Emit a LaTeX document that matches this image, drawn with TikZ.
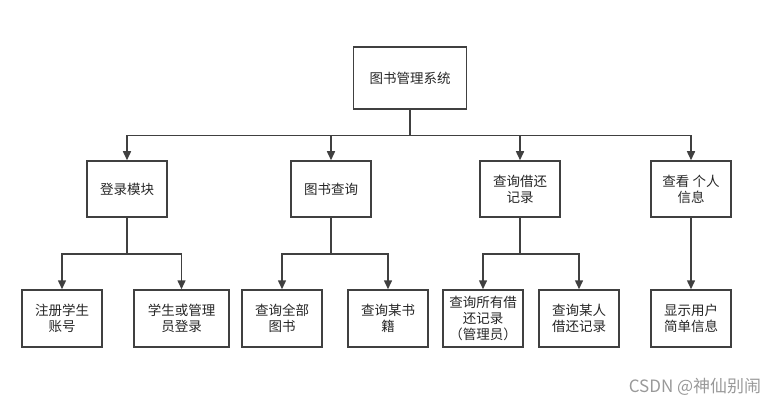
\documentclass[tikz,border=0pt]{standalone}
\usepackage{fontspec}
\setmainfont{Noto Sans CJK SC}
\usetikzlibrary{arrows.meta,positioning}

\begin{document}
\begin{tikzpicture}[
  x=1pt, y=-1pt,
  >={Triangle[length=9pt,width=8pt]},
  line width=1.5pt,
  draw=black!75,
  box/.style={draw=black!75, line width=1.5pt, align=center, inner sep=2pt,
    minimum width=80pt, minimum height=56pt, text=black!85,
    font=\fontsize{13.5}{16}\selectfont},
  lbl/.style={font=\fontsize{17}{18}\selectfont, text=black!40}]

\useasboundingbox (0,0) rectangle (778,406);

% top level
\node[box, minimum width=113pt, minimum height=62pt] (sys) at (410,78) {图书管理系统};

% modules
\node[box] (login) at (127,189) {登录模块};
\node[box] (query) at (331,189) {图书查询};
\node[box] (borrow) at (520,189) {查询借还\\记录};
\node[box] (info) at (691,189) {查看 个人\\信息};

% leaves
\node[box, minimum height=57pt] (reg) at (62,318.5) {注册学生\\账号};
\node[box, minimum height=57pt, minimum width=95pt] (signin) at (181.5,318.5) {学生或管理\\员登录};
\node[box, minimum height=57pt] (allbook) at (282,318.5) {查询全部\\图书};
\node[box, minimum height=57pt] (onebook) at (388,318.5) {查询某书\\籍};
\node[box, minimum height=57pt] (allrec) at (483,318.5) {查询所有借\\还记录\\（管理员）};
\node[box, minimum height=57pt] (onerec) at (579,318.5) {查询某人\\借还记录};
\node[box, minimum height=57pt] (show) at (691,318.5) {显示用户\\简单信息};

% top -> modules
\draw (sys.south) -- ++(0,26) coordinate (bus);
\draw[->] (bus) -| (login.north);
\draw[->] (bus) -| (query.north);
\draw[->] (bus) -| (borrow.north);
\draw[->] (bus) -| (info.north);

% modules -> leaves
\draw (login.south) -- ++(0,36) coordinate (b1);
\draw[->] (b1) -| (reg.north);
\draw[->] (b1) -| (signin.north);

\draw (query.south) -- ++(0,36) coordinate (b2);
\draw[->] (b2) -| (allbook.north);
\draw[->] (b2) -| (onebook.north);

\draw (borrow.south) -- ++(0,36) coordinate (b3);
\draw[->] (b3) -| (allrec.north);
\draw[->] (b3) -| (onerec.north);

\draw[->] (info) -- (show);

\node[lbl] (mark) at (695,387) {CSDN @神仙别闹};

\end{tikzpicture}
\end{document}
